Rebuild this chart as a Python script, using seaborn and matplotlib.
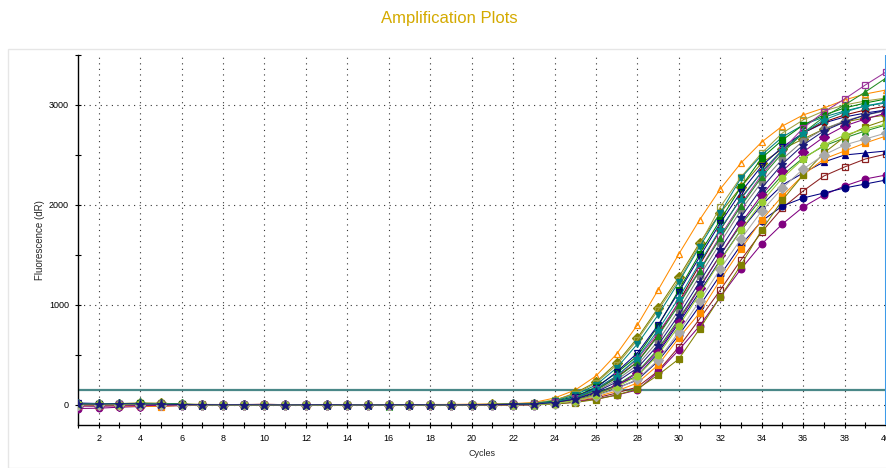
import matplotlib
matplotlib.use("Agg")
import matplotlib.pyplot as plt
import seaborn as sns
import pandas as pd
from matplotlib.patches import Rectangle

cycles = list(range(1, 41))

# Fluorescence (dR) per cycle
s_orange_tri = [10, 5, 8, 12, 6, 4, 2, 3, 5, 4, 2, 3, 1, 2, 4, 3, 2, 5, 6, 8, 10, 14,
                25, 70, 150, 290, 510, 800, 1150, 1510, 1850, 2160, 2420, 2630, 2790, 2900, 2970, 3050, 3110, 3150]
s_olive_dia = [15, 12, 14, 18, 16, 8, 5, 4, 3, 2, 4, 3, 2, 1, 3, 2, 1, 2, 3, 4, 6, 9,
               15, 45, 120, 230, 420, 670, 970, 1280, 1620, 1920, 2180, 2420, 2560, 2660, 2760, 2830, 2870, 2900]
s_olive_osq = [12, 10, 15, 20, 18, 10, 6, 5, 4, 3, 4, 2, 3, 2, 1, 2, 3, 2, 3, 5, 7, 10,
               20, 50, 110, 220, 400, 650, 950, 1250, 1600, 1980, 2280, 2520, 2720, 2850, 2940, 3000, 3040, 3070]
s_teal_v = [8, 6, 10, 14, 12, 6, 4, 3, 2, 4, 3, 2, 3, 1, 2, 3, 2, 3, 2, 4, 6, 8,
            15, 40, 100, 200, 370, 610, 900, 1230, 1580, 1920, 2270, 2500, 2680, 2800, 2880, 2940, 2990, 3020]
s_green_sq = [5, 8, 12, 16, 14, 7, 3, 2, 3, 2, 3, 4, 2, 3, 1, 2, 3, 1, 2, 3, 4, 6,
              10, 35, 85, 180, 320, 490, 790, 1150, 1510, 1850, 2180, 2470, 2650, 2800, 2900, 2970, 3020, 3060]
s_navy_ov = [20, 15, 10, 12, 8, 5, 3, 4, 2, 3, 2, 3, 1, 2, 3, 2, 1, 2, 2, 3, 4, 6,
             10, 30, 80, 170, 330, 520, 800, 1130, 1480, 1820, 2130, 2390, 2580, 2720, 2820, 2880, 2920, 2950]
s_maroon_o = [2, 0, 4, 8, 6, 3, 2, 1, 4, 8, 3, 2, 1, 2, 1, 2, 1, -5, 1, 2, 3, 5,
              8, 25, 70, 150, 280, 430, 700, 1030, 1400, 1750, 2070, 2330, 2550, 2720, 2830, 2900, 2950, 2990]
s_maroon_osq = [-5, -8, -3, 0, -2, 1, 0, 2, 1, 0, 1, 0, 1, -1, 0, 1, 0, 1, 0, 1, 2, 3,
                5, 15, 35, 70, 120, 180, 340, 580, 860, 1150, 1450, 1730, 1970, 2140, 2290, 2380, 2460, 2510]
s_purple_o = [-35, -32, -22, -15, -12, -6, -3, -2, -1, 0, -1, 0, -2, -1, 0, -1, 0, -1, 0, -1, 0, 1,
              0, 10, 30, 60, 100, 150, 330, 550, 790, 1080, 1360, 1610, 1810, 1980, 2100, 2190, 2260, 2300]
s_navy_o = [0, -3, 2, 5, 4, 2, 1, 2, 6, 3, 2, 1, 0, 1, 2, 1, 0, 1, 0, 2, 3, 4,
            5, 20, 50, 100, 170, 250, 440, 700, 990, 1300, 1600, 1840, 1990, 2070, 2120, 2170, 2210, 2250]
s_navy_tri = [6, 4, 7, 9, 5, 3, 2, 1, 2, 1, 2, 1, 2, 1, 0, 1, 2, 1, 2, 3, 4, 5,
              8, 25, 60, 120, 200, 290, 520, 820, 1130, 1450, 1750, 2000, 2200, 2320, 2430, 2500, 2520, 2540]
s_orange_sq = [-8, -5, -10, -12, -15, -3, -2, -4, -1, -3, -2, -1, -2, -1, 0, -2, -1, 0, -1, 0, 1, 2,
               5, 15, 40, 80, 140, 220, 400, 670, 920, 1250, 1560, 1850, 2090, 2300, 2460, 2540, 2620, 2690]
s_gray_o = [4, 2, 5, 8, 6, 3, 1, 2, 1, 2, 1, 2, 1, 2, 0, 1, 2, 1, 2, 3, 4, 5,
            8, 25, 65, 140, 250, 400, 640, 950, 1290, 1620, 1950, 2230, 2460, 2640, 2760, 2840, 2900, 2940]
s_purple_osq = [5, 3, 6, 10, 8, 4, 2, 3, 2, 1, 2, 3, 2, 1, 2, 0, 1, 2, 3, 4, 5, 7,
                10, 30, 75, 160, 290, 460, 720, 1020, 1350, 1690, 2010, 2300, 2550, 2770, 2930, 3060, 3200, 3330]
s_green_tri = [14, 10, 12, 15, 10, 5, 4, 3, 2, 3, 2, 1, 2, 3, 2, 1, 2, 3, 2, 3, 5, 7,
               10, 30, 70, 150, 270, 430, 690, 1000, 1340, 1670, 1990, 2280, 2520, 2720, 2880, 3000, 3130, 3270]
s_green_star = [8, 10, 6, 9, 7, 4, 2, 3, 2, 1, 2, 1, 0, 1, 2, -6, 1, 0, 1, 2, 3, 4,
                5, 20, 50, 110, 200, 330, 560, 860, 1180, 1500, 1800, 2070, 2300, 2470, 2590, 2670, 2740, 2800]
s_teal_star = [12, 14, 10, 16, 13, 6, 4, 3, 2, 3, 1, 2, 3, 2, 1, 2, 3, 2, 1, 3, 5, 7,
               10, 30, 75, 160, 290, 470, 750, 1070, 1420, 1760, 2060, 2330, 2550, 2720, 2850, 2930, 2990, 3030]
s_purple_dia = [-10, -12, -8, -6, -4, -2, 0, 1, 0, 1, 0, 1, 0, 1, 0, 1, 0, 1, 0, 1, 2, 3,
                5, 20, 50, 100, 190, 320, 540, 840, 1170, 1500, 1820, 2100, 2340, 2530, 2680, 2790, 2860, 2920]
s_olive_sq = [3, 1, 4, 6, 5, 2, 1, 0, 1, 0, 1, 0, -4, 0, 1, 0, 1, 0, 1, 1, 2, 2,
              3, 10, 25, 55, 100, 160, 300, 460, 760, 1080, 1400, 1750, 2050, 2300, 2520, 2680, 2780, 2850]
s_gray_dia = [2, 4, 3, 5, 4, 2, 1, 0, 1, 2, 1, 0, 1, 2, 1, 0, 1, 2, 1, 2, 3, 4,
              5, 15, 40, 90, 160, 260, 450, 730, 1040, 1360, 1660, 1940, 2170, 2360, 2500, 2600, 2660, 2720]
s_yg_o = [6, 8, 5, 7, 9, 4, 2, 1, 2, 1, 2, 1, 2, 1, 2, 1, 2, 1, 2, 3, 4, 5,
          5, 15, 45, 100, 180, 290, 500, 790, 1110, 1440, 1750, 2030, 2270, 2460, 2600, 2700, 2760, 2810]
s_navy_star = [10, 8, 12, 10, 7, 5, 3, 2, 3, 2, 1, 2, 3, 2, 1, 2, 3, 2, 1, 3, 4, 6,
               8, 25, 60, 130, 230, 370, 600, 900, 1230, 1560, 1880, 2170, 2410, 2600, 2740, 2830, 2900, 2950]

threshold = 150
x_ticks = list(range(2, 41, 2))
y_ticks = [0, 1000, 2000, 3000]

series = [
    ("orange_tri", s_orange_tri, "#FF8C00", "^", False),
    ("olive_dia", s_olive_dia, "#808000", "D", True),
    ("olive_osq", s_olive_osq, "#A0A040", "s", False),
    ("teal_v", s_teal_v, "#008080", "v", True),
    ("green_sq", s_green_sq, "#008000", "s", True),
    ("navy_ov", s_navy_ov, "#000080", "v", False),
    ("maroon_o", s_maroon_o, "#800000", "o", True),
    ("maroon_osq", s_maroon_osq, "#8B2020", "s", False),
    ("purple_o", s_purple_o, "#800080", "o", True),
    ("navy_o", s_navy_o, "#000080", "o", True),
    ("navy_tri", s_navy_tri, "#000080", "^", True),
    ("orange_sq", s_orange_sq, "#FF8C00", "s", True),
    ("gray_o", s_gray_o, "#808080", "o", True),
    ("purple_osq", s_purple_osq, "#993399", "s", False),
    ("green_tri", s_green_tri, "#228B22", "^", True),
    ("green_star", s_green_star, "#228B22", "*", True),
    ("teal_star", s_teal_star, "#008B8B", "*", True),
    ("purple_dia", s_purple_dia, "#800080", "D", True),
    ("olive_sq", s_olive_sq, "#808000", "s", True),
    ("gray_dia", s_gray_dia, "#A9A9A9", "D", True),
    ("yg_o", s_yg_o, "#9ACD32", "o", True),
    ("navy_star", s_navy_star, "#1A1A7A", "*", True),
]

rows = []
for name, vals, _, _, _ in series:
    for c, v in zip(cycles, vals):
        rows.append({"series": name, "Cycles": c, "dR": v})
df = pd.DataFrame(rows)

sns.set_style("white")
plt.rcParams["font.family"] = ["Liberation Sans", "DejaVu Sans"]

fig = plt.figure(figsize=(8.87, 4.68), dpi=100)
# faint panel border
fig.patches.append(Rectangle((8 / 887, 0.0), 1.0, 1 - 49 / 468, transform=fig.transFigure,
                             facecolor="none", edgecolor="#E6E6E6", linewidth=1.0))
ax = fig.add_axes([78 / 887, 43 / 468, 808 / 887, 370 / 468])

for name, vals, color, marker, filled in series:
    sub = df[df["series"] == name]
    ms = 6.5 if marker == "*" else 4.8
    sns.lineplot(data=sub, x="Cycles", y="dR", ax=ax, color=color, linewidth=0.75,
                 marker=marker, markersize=ms,
                 markerfacecolor=(color if filled else "none"),
                 markeredgecolor=color, markeredgewidth=0.9, legend=False, zorder=3)

ax.axhline(threshold, color="#4A8888", linewidth=1.6, zorder=2)
ax.axvline(40, color="#3D9BE9", linewidth=2.2, zorder=4)

ax.set_xlim(1, 40)
ax.set_ylim(-200, 3500)
ax.set_xticks(x_ticks)
ax.set_xticklabels([str(t) for t in x_ticks])
ax.set_xticks(cycles, minor=True)
ax.set_yticks(y_ticks)
ax.set_yticklabels([str(t) for t in y_ticks])
ax.set_yticks([500, 1500, 2500, 3500], minor=True)

ax.grid(True, which="major", color="#333333", linestyle=(0, (1, 4)), linewidth=0.8)
ax.tick_params(axis="both", which="both", direction="inout", length=5, width=0.8,
               colors="black", labelsize=6.5, pad=4)
ax.tick_params(axis="x", which="both", bottom=True)
ax.tick_params(axis="y", which="both", left=True)

for side in ["top", "right"]:
    ax.spines[side].set_visible(False)
for side in ["left", "bottom"]:
    ax.spines[side].set_color("black")
    ax.spines[side].set_linewidth(1.0)

ax.set_xlabel("Cycles", fontsize=6.5, labelpad=4)
ax.set_ylabel("Fluorescence (dR)", fontsize=7, labelpad=3)

fig.text(0.507, 1 - 18 / 468, "Amplification Plots", ha="center", va="center",
         fontsize=12, color="#D4AA00")

fig.savefig("out.png", dpi=100)
